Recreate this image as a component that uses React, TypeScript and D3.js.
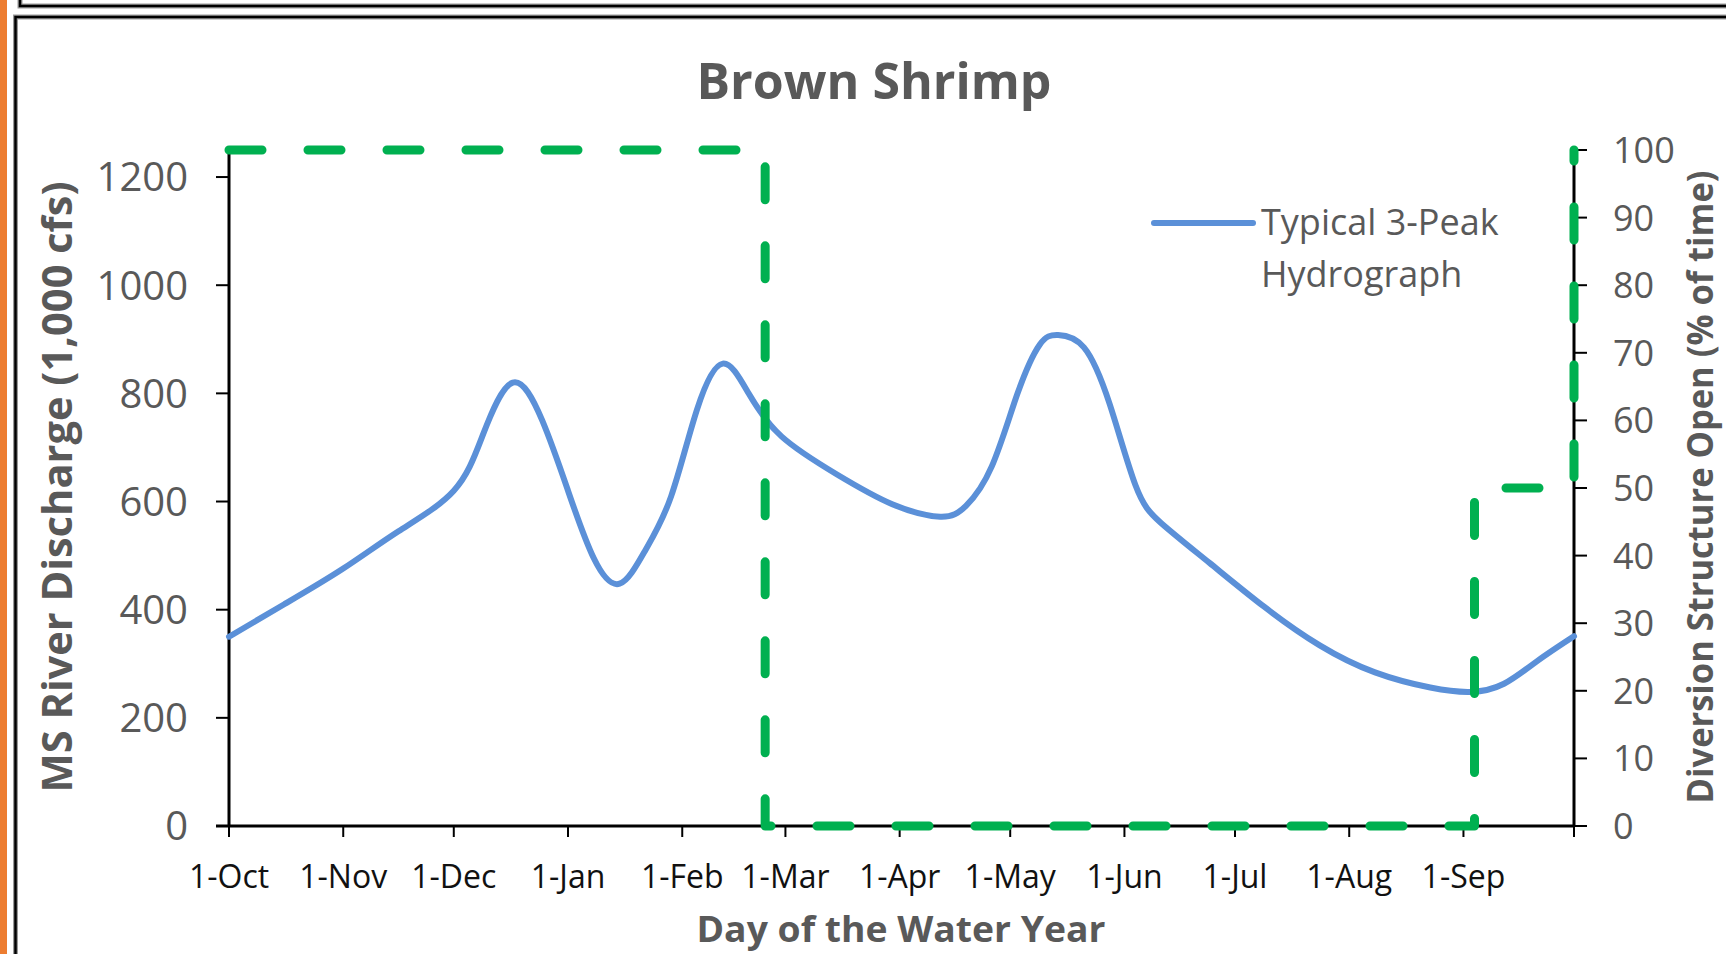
import React from "react";
import * as d3 from "d3";

// ---- data ----
const dayOfYear = [0, 15, 31, 46, 61, 69, 77, 85, 92, 99, 106, 113, 120, 127, 134, 141, 150, 165, 180, 193, 200, 207, 214, 220, 225, 232, 239, 246, 253, 266, 281, 296, 311, 326, 337, 346, 355, 365];
const discharge = [350, 410, 476, 545, 620, 725, 820, 750, 620, 495, 448, 510, 610, 770, 855, 800, 720, 650, 595, 572, 592, 665, 800, 890, 908, 885, 780, 630, 560, 487, 405, 334, 284, 256, 248, 263, 305, 351];

const openDay = [0, 145.5, 145.5, 338, 338, 365, 365];
const openPct = [100, 100, 0, 0, 50, 50, 100];

const monthDays = [0, 31, 61, 92, 123, 151, 182, 212, 243, 273, 304, 335, 365];
const monthLabels = ["1-Oct", "1-Nov", "1-Dec", "1-Jan", "1-Feb", "1-Mar", "1-Apr", "1-May", "1-Jun", "1-Jul", "1-Aug", "1-Sep"];
const leftTicks = [0, 200, 400, 600, 800, 1000, 1200];
const rightTicks = [0, 10, 20, 30, 40, 50, 60, 70, 80, 90, 100];

const W = 1726;
const H = 954;
const L = 229, R = 1574, T = 150, B = 826;
const FONT = "'Open Sans', 'Noto Sans', sans-serif";
const GRAY = "#595959";
const BLUE = "#5B90D8";
const GREEN = "#00B050";

export default function App() {
  const x = d3.scaleLinear().domain([0, 365]).range([L, R]);
  const yL = d3.scaleLinear().domain([0, 1250]).range([B, T]);
  const yR = d3.scaleLinear().domain([0, 100]).range([B, T]);

  const blue = d3
    .line<number>()
    .x((_, i) => x(dayOfYear[i]))
    .y((d) => yL(d))
    .curve(d3.curveNatural)(discharge) as string;

  const green = d3
    .line<number>()
    .x((_, i) => x(openDay[i]))
    .y((d) => yR(d))(openPct) as string;

  return (
    <svg
      width={W}
      height={H}
      style={{ position: "absolute", left: 0, top: 0, background: "#fff" }}
      fontFamily={FONT}
    >
      <rect x={0} y={0} width={W} height={H} fill="#fff" />
      {/* frame pieces */}
      <rect x={0} y={0} width={7} height={H} fill="#ED7D31" />
      <path d={`M20,0 V6 H${W}`} fill="none" stroke="#9a9a9a" strokeWidth={5} />
      <path d={`M20,0 V6 H${W}`} fill="none" stroke="#000" strokeWidth={2.5} />
      <path d={`M${W},17 H15.5 V${H}`} fill="none" stroke="#9a9a9a" strokeWidth={5} />
      <path d={`M${W},17 H15.5 V${H}`} fill="none" stroke="#000" strokeWidth={2.5} />

      {/* title */}
      <text x={874} y={99} textAnchor="middle" fontSize={50} fontWeight={700} fill={GRAY}>
        Brown Shrimp
      </text>

      {/* axes */}
      <g stroke="#000">
        <line x1={L} x2={L} y1={T} y2={B + 1} strokeWidth={3} />
        <line x1={R} x2={R} y1={T} y2={B + 1} strokeWidth={3} />
        <line x1={L - 13} x2={R} y1={B} y2={B} strokeWidth={3} />
        {leftTicks.map((t) => (
          <line key={"lt" + t} x1={L - 13} x2={L} y1={yL(t)} y2={yL(t)} strokeWidth={2} />
        ))}
        {rightTicks.map((t) => (
          <line key={"rt" + t} x1={R} x2={R + 13} y1={yR(t)} y2={yR(t)} strokeWidth={2} />
        ))}
        {monthDays.map((d) => (
          <line key={"xt" + d} x1={x(d)} x2={x(d)} y1={B} y2={B + 11} strokeWidth={2} />
        ))}
      </g>

      {/* tick labels */}
      {leftTicks.map((t) => (
        <text key={"ll" + t} x={188} y={yL(t)} dy="0.36em" textAnchor="end" fontSize={40} fill={GRAY}>
          {t}
        </text>
      ))}
      {rightTicks.map((t) => (
        <text key={"rl" + t} x={1613} y={yR(t)} dy="0.36em" textAnchor="start" fontSize={36} fill={GRAY}>
          {t}
        </text>
      ))}
      {monthLabels.map((m, i) => (
        <text key={m} x={x(monthDays[i])} y={888} textAnchor="middle" fontSize={32} fill="#111">
          {m}
        </text>
      ))}

      {/* axis titles */}
      <text
        transform={`translate(72,487) rotate(-90)`}
        textAnchor="middle"
        fontSize={42}
        fontWeight={700}
        fill={GRAY}
        textLength={611}
        lengthAdjust="spacingAndGlyphs"
      >
        MS River Discharge (1,000 cfs)
      </text>
      <text
        transform={`translate(1713,487) rotate(-90)`}
        textAnchor="middle"
        fontSize={36}
        fontWeight={700}
        fill={GRAY}
        textLength={633}
        lengthAdjust="spacingAndGlyphs"
      >
        Diversion Structure Open (% of time)
      </text>
      <text
        x={901}
        y={942}
        textAnchor="middle"
        fontSize={36}
        fontWeight={700}
        fill={GRAY}
        textLength={409}
        lengthAdjust="spacingAndGlyphs"
      >
        Day of the Water Year
      </text>

      {/* series */}
      <path d={blue} fill="none" stroke={BLUE} strokeWidth={6} strokeLinecap="round" strokeLinejoin="round" />
      <path
        d={green}
        fill="none"
        stroke={GREEN}
        strokeWidth={9}
        strokeDasharray="33 46"
        strokeLinecap="round"
        strokeLinejoin="round"
      />

      {/* legend */}
      <line x1={1154} x2={1253} y1={223} y2={223} stroke={BLUE} strokeWidth={6} strokeLinecap="round" />
      <text x={1261} y={235} fontSize={36} fill={GRAY}>
        Typical 3-Peak
      </text>
      <text x={1261} y={287} fontSize={36} fill={GRAY}>
        Hydrograph
      </text>
    </svg>
  );
}
